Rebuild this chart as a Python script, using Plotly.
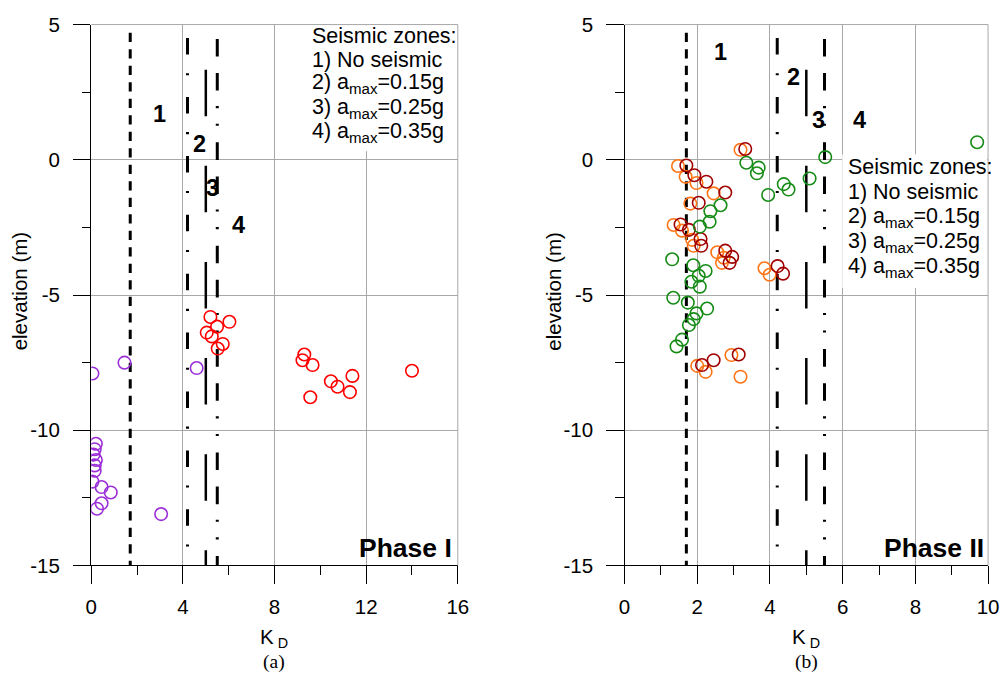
import plotly.graph_objects as go

W, H = 1004, 681
# layout helpers: design positions are given in window pixels and converted to figure pixels
SX, OX = 0.9844, 4.6
SY, OY = 0.968, 10.5
PLOT_TOP_PX = 13.0  # top edge of both panels, in figure pixels

# ---------------- data ----------------
# Phase I
p1_purple_kd = [0.05, 1.45, 4.6, 0.2, 0.15, 0.1, 0.2, 0.15, 0.15, 0.05, 0.45, 0.85, 0.45, 0.25, 3.05]
p1_purple_el = [-7.9, -7.5, -7.7, -10.5, -10.7, -10.9, -11.1, -11.3, -11.5, -11.9, -12.1, -12.3, -12.7, -12.9, -13.1]

p1_red_kd = [5.2, 6.03, 5.49, 5.04, 5.26, 5.74, 5.52, 9.3, 9.22, 9.66, 10.46, 10.75, 11.4, 11.29, 9.56, 14.0]
p1_red_el = [-5.81, -5.99, -6.17, -6.39, -6.53, -6.81, -6.98, -7.2, -7.41, -7.59, -8.19, -8.39, -7.99, -8.59, -8.78, -7.8]

# Phase II
p2_orange_kd = [3.19, 1.47, 1.68, 1.98, 2.45, 1.81, 1.35, 1.58, 1.86, 1.90, 2.55, 2.73, 2.68, 3.85, 3.99, 2.94, 2.0, 2.23, 3.19]
p2_orange_el = [0.37, -0.23, -0.63, -0.86, -1.24, -1.62, -2.41, -2.62, -2.96, -3.18, -3.42, -3.62, -3.81, -4.01, -4.25, -7.22, -7.62, -7.84, -8.02]

p2_darkred_kd = [3.32, 1.70, 1.92, 2.25, 2.77, 2.04, 1.54, 1.77, 2.09, 2.11, 2.77, 2.96, 2.89, 4.21, 4.36, 3.14, 2.45, 2.13]
p2_darkred_el = [0.4, -0.21, -0.57, -0.81, -1.21, -1.59, -2.39, -2.59, -2.93, -3.18, -3.36, -3.59, -3.81, -3.93, -4.21, -7.2, -7.41, -7.59]

p2_green_kd = [3.35, 3.69, 3.64, 3.95, 4.38, 4.51, 5.09, 5.52, 9.7, 2.64, 2.36, 2.34, 2.07, 1.31, 1.89, 2.23, 2.04,
               1.84, 2.07, 1.34, 1.74, 2.27, 1.98, 1.90, 1.77, 1.58, 1.43]
p2_green_el = [-0.11, -0.29, -0.5, -1.3, -0.9, -1.1, -0.69, 0.1, 0.65, -1.68, -1.90, -2.29, -2.47, -3.68, -3.90, -4.11, -4.29,
               -4.51, -4.69, -5.1, -5.28, -5.5, -5.68, -5.89, -6.11, -6.65, -6.90]

# seismic zone boundaries (K_D) and their labels
zone_kd = [1.7, 4.2, 5.0, 5.5]
zone_names = ["1", "2", "3", "4"]

x1_ticks = [0, 4, 8, 12, 16]
x2_ticks = [0, 2, 4, 6, 8, 10]
y_ticks = [5, 0, -5, -10, -15]
y_ticktext = ["5", "0", "-5", "-10", "-15"]

legend_lines = ["Seismic zones:", "1) No seismic",
                "2) a<sub>max</sub>=0.15g", "3) a<sub>max</sub>=0.25g", "4) a<sub>max</sub>=0.35g"]

# ---------------- styling ----------------
FONT = "Liberation Sans, Arial, sans-serif"
SERIF = "Liberation Serif, Times New Roman, serif"
GRID = "#a8a8a8"


def vpx(n):
    """Length along the vertical direction in figure pixels."""
    return n / SY


def dash(*lens):
    return ",".join(f"{vpx(v):.1f}px" for v in lens)


# zone line styles: dash pattern, width, starting elevation
zone_dash = [dash(9, 7), dash(16, 18, 2, 21), dash(45, 48), dash(17, 16, 17, 15, 2, 15, 2, 16)]
zone_width = [3, 3, 2.5, 3]
zone_top = [4.7, 4.5, 3.33, 4.47]


def paper(px, py):
    """Window pixel position -> paper fraction."""
    fx = (px - OX) / SX
    fy = (py - OY) / SY
    return fx / W, 1 - fy / H


fig = go.Figure()


def add_zone_lines(xa, ya):
    for kd, d, w, top in zip(zone_kd, zone_dash, zone_width, zone_top):
        fig.add_trace(go.Scatter(
            x=[kd, kd], y=[top, -15], mode="lines",
            line=dict(color="black", width=w, dash=d),
            xaxis=xa, yaxis=ya, showlegend=False, hoverinfo="skip"))


def add_points(xs, ys, color, xa, ya):
    fig.add_trace(go.Scatter(
        x=xs, y=ys, mode="markers",
        marker=dict(symbol="circle-open", size=12.5, color=color,
                    line=dict(width=1.6, color=color)),
        xaxis=xa, yaxis=ya, showlegend=False, hoverinfo="skip"))


add_zone_lines("x", "y")
add_points(p1_purple_kd, p1_purple_el, "#9b2fd8", "x", "y")
add_points(p1_red_kd, p1_red_el, "#ff0000", "x", "y")

add_zone_lines("x2", "y2")
add_points(p2_orange_kd, p2_orange_el, "#ff7414", "x2", "y2")
add_points(p2_darkred_kd, p2_darkred_el, "#a00000", "x2", "y2")
add_points(p2_green_kd, p2_green_el, "#168c16", "x2", "y2")

tickfont = dict(family=FONT, size=20.5, color="black")


def xaxis(domain, rng, ticks, minor_dt):
    return dict(domain=domain, range=rng, tickmode="array", tickvals=ticks,
                ticktext=[str(t) for t in ticks],
                showgrid=True, gridcolor=GRID, gridwidth=1, zeroline=False,
                showline=True, linecolor="black", linewidth=1,
                ticks="outside", ticklen=vpx(17), tickwidth=1, tickcolor="black",
                ticklabelstandoff=5, tickfont=tickfont, fixedrange=True,
                minor=dict(tickmode="linear", tick0=0, dtick=minor_dt, ticks="outside",
                           ticklen=vpx(8), tickwidth=1, tickcolor="black", showgrid=False))


def yaxis(domain, anchor):
    return dict(domain=domain, range=[-15, 5], anchor=anchor, tickmode="array",
                tickvals=y_ticks, ticktext=y_ticktext,
                showgrid=True, gridcolor=GRID, gridwidth=1, zeroline=False,
                showline=True, linecolor="black", linewidth=1,
                ticks="outside", ticklen=17 / SX, tickwidth=1, tickcolor="black",
                ticklabelstandoff=9, tickfont=tickfont, fixedrange=True,
                minor=dict(tickmode="linear", tick0=0, dtick=2.5, ticks="outside",
                           ticklen=8 / SX, tickwidth=1, tickcolor="black", showgrid=False))


x1a, ybot = paper(90, 565)
x1b = paper(457, 0)[0]
x2a, x2b = paper(624, 0)[0], paper(988, 0)[0]
ydom = [ybot, 1 - PLOT_TOP_PX / H]

layout = dict(
    width=W, height=H, autosize=False,
    margin=dict(l=0, r=0, t=0, b=0),
    paper_bgcolor="white", plot_bgcolor="white",
    xaxis=dict(**xaxis([x1a, x1b], [0, 16], x1_ticks, 2), anchor="y"),
    yaxis=yaxis(ydom, "x"),
    xaxis2=dict(**xaxis([x2a, x2b], [0, 10], x2_ticks, 1), anchor="y2"),
    yaxis2=yaxis(ydom, "x2"),
)
fig.update_layout(**layout)

shapes = []
# white panels behind the zone descriptions
for x0, y0, x1, y1 in [(304, 24, 456, 150), (842, 153, 987, 287)]:
    a0, b0 = paper(x0, y1)
    a1, b1 = paper(x1, y0)
    shapes.append(dict(type="rect", xref="paper", yref="paper", x0=a0, y0=b0, x1=a1, y1=b1,
                       fillcolor="white", line=dict(width=0), layer="above"))
# grey frame on top and right of each panel
for xa, ya in [("x", "y"), ("x2", "y2")]:
    shapes.append(dict(type="line", xref=f"{xa} domain", yref=f"{ya} domain",
                       x0=0, x1=1, y0=1, y1=1, line=dict(color=GRID, width=1), layer="above"))
    shapes.append(dict(type="line", xref=f"{xa} domain", yref=f"{ya} domain",
                       x0=1, x1=1, y0=0, y1=1, line=dict(color=GRID, width=1), layer="above"))
fig.update_layout(shapes=shapes)

ann = []
body = dict(family=FONT, size=21.5, color="black")
bold = dict(family=FONT, size=23.5, color="black", weight="bold")

# zone numbers
zone_label_pos = {
    "x": [(2.96, 1.69), (4.72, 0.6), (5.3, -1.04), (6.42, -2.41)],
    "x2": [(2.63, 3.99), (4.64, 3.05), (5.34, 1.48), (6.45, 1.48)],
}
for xa, ya in [("x", "y"), ("x2", "y2")]:
    for name, (xx, yy) in zip(zone_names, zone_label_pos[xa]):
        ann.append(dict(x=xx, y=yy, xref=xa, yref=ya, text=name, showarrow=False,
                        font=bold, xanchor="center", yanchor="middle"))

# zone descriptions
for (left, ys) in [(309, [35, 58.5, 82.5, 107, 131.5]), (846, [166, 191, 216, 241, 266])]:
    for txt, py in zip(legend_lines, ys):
        ax, ay = paper(left, py)
        ann.append(dict(x=ax, y=ay, xref="paper", yref="paper", text=txt, showarrow=False,
                        font=body, xanchor="left", yanchor="middle", align="left"))

# phase tags
phase_font = dict(family=FONT, size=26.5, color="black", weight="bold")
ann.append(dict(x=15.85, y=-14.35, xref="x", yref="y", text="Phase I", showarrow=False,
                font=phase_font, xanchor="right", yanchor="middle"))
ann.append(dict(x=9.93, y=-14.35, xref="x2", yref="y2", text="Phase II", showarrow=False,
                font=phase_font, xanchor="right", yanchor="middle"))

# axis titles and panel captions
title_font = dict(family=FONT, size=20.5, color="black")
for cx_y, cx_x, cap in [(19, 273, "(a)"), (553, 806, "(b)")]:
    ax, ay = paper(cx_y, 290)
    ann.append(dict(x=ax, y=ay, xref="paper", yref="paper", text="elevation (m)", textangle=-90,
                    showarrow=False, font=title_font, xanchor="center", yanchor="middle"))
    ax, ay = paper(cx_x, 638)
    ann.append(dict(x=ax, y=ay, xref="paper", yref="paper", text="K<sub> D</sub>",
                    showarrow=False, font=title_font, xanchor="center", yanchor="middle"))
    ax, ay = paper(cx_x, 662)
    ann.append(dict(x=ax, y=ay, xref="paper", yref="paper", text=cap,
                    showarrow=False, font=dict(family=SERIF, size=19.5, color="black"),
                    xanchor="center", yanchor="middle"))

fig.update_layout(annotations=ann)

fig.write_html("out.html")
